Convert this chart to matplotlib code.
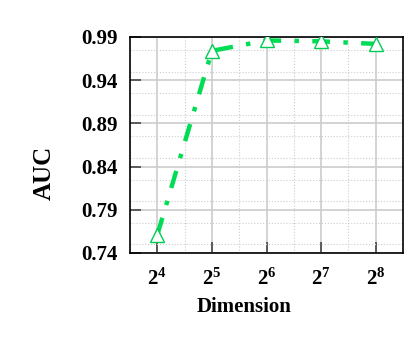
import numpy as np
import matplotlib
matplotlib.use("Agg")
import matplotlib.pyplot as plt
from matplotlib.ticker import MultipleLocator

# data
dims = [4, 5, 6, 7, 8]          # exponents of 2
auc = [0.761, 0.974, 0.986, 0.985, 0.982]
y_ticks = [0.74, 0.79, 0.84, 0.89, 0.94, 0.99]

plt.rcParams['font.family'] = 'Liberation Serif'
plt.rcParams['font.weight'] = 'bold'
plt.rcParams['mathtext.fontset'] = 'custom'
plt.rcParams['mathtext.rm'] = 'Liberation Serif:bold'
plt.rcParams['mathtext.bf'] = 'Liberation Serif:bold'

fig = plt.figure(figsize=(4.17, 3.39), dpi=100)
ax = fig.add_axes([130/417, 1 - 253/339, 273/417, 216/339])

x = np.arange(len(dims))
ax.plot(x, auc, color='#00dd55', linestyle=(0, (4, 3, 1, 3)), linewidth=3.2,
        marker='^', markersize=10, markerfacecolor='white', markeredgecolor='#00cc55',
        markeredgewidth=1, zorder=3)

ax.set_xlim(-0.5, len(dims) - 0.5)
ax.set_ylim(0.74, 0.99)
ax.set_xticks(x)
ax.set_xticklabels([r'$\mathbf{2^{%d}}$' % d for d in dims])
ax.set_xticks(np.arange(-0.5, len(dims), 1), minor=True)
ax.set_yticks(y_ticks)
ax.set_yticklabels(['%.2f' % v for v in y_ticks])
ax.yaxis.set_minor_locator(MultipleLocator(0.025))

ax.grid(which='major', color='#cccccc', linewidth=1.2, linestyle='-')
ax.grid(which='minor', color='#cccccc', linewidth=0.8, linestyle=':')
ax.set_axisbelow(True)

ax.tick_params(which='major', direction='in', length=8, width=1.2, color='#444444',
               labelsize=15, pad=9)
ax.tick_params(axis='x', which='major', pad=11)
ax.tick_params(which='minor', length=0)

for s in ax.spines.values():
    s.set_color('black')
    s.set_linewidth(1.2)

ax.set_xlabel('Dimension', fontsize=15, fontweight='bold', va='center')
ax.xaxis.set_label_coords(0.418, -0.25)
ax.set_ylabel('AUC', fontsize=18, fontweight='bold', va='center')
ax.yaxis.set_label_coords(-0.315, 0.37)

fig.savefig('out.png', dpi=100)
